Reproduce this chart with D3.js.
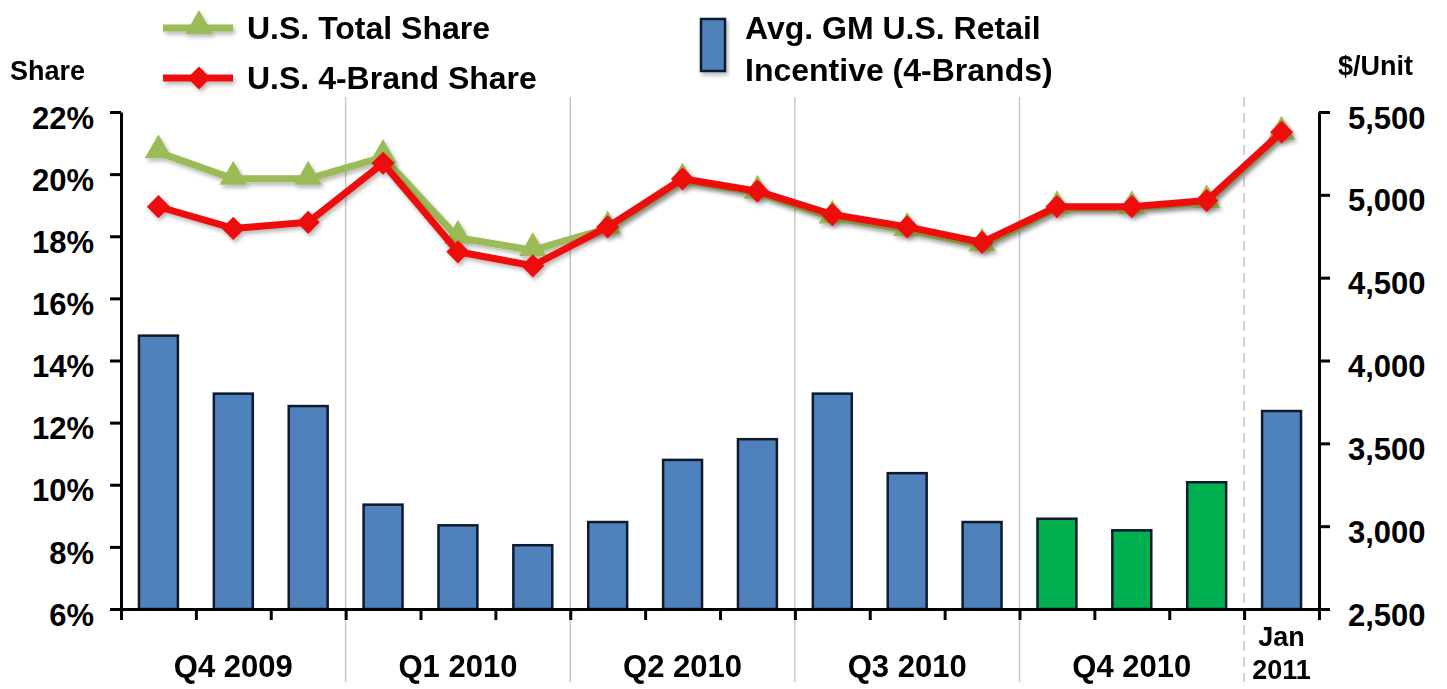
<!DOCTYPE html>
<html>
<head>
<meta charset="utf-8">
<script src="https://cdn.jsdelivr.net/npm/d3@7"></script>
<style>
  html, body { margin: 0; padding: 0; background: #fff; }
  svg { display: block; font-family: "Liberation Sans", Arial, sans-serif; font-weight: bold; }
</style>
</head>
<body>
<svg id="chart" width="1447" height="689"></svg>
<script>
// Monthly periods, Oct 2009 – Jan 2011
const months = ["Oct 09","Nov 09","Dec 09","Jan 10","Feb 10","Mar 10","Apr 10","May 10","Jun 10",
                "Jul 10","Aug 10","Sep 10","Oct 10","Nov 10","Dec 10","Jan 11"];
const quarterLabels = ["Q4 2009","Q1 2010","Q2 2010","Q3 2010","Q4 2010"];

// Average GM U.S. retail incentive, 4 brands ($/unit)
const incentive = [4150, 3800, 3725, 3130, 3005, 2885, 3025, 3400, 3525,
                   3800, 3320, 3025, 3045, 2975, 3265, 3695];
// U.S. total share (%)
const totalShare = [20.7, 19.85, 19.85, 20.55, 17.95, 17.55, 18.25, 19.8, 19.4,
                    18.6, 18.2, 17.7, 18.9, 18.9, 19.1, 21.3];
// U.S. 4-brand share (%)
const brandShare = [18.95, 18.25, 18.45, 20.35, 17.5, 17.05, 18.3, 19.85, 19.45,
                    18.7, 18.3, 17.8, 18.95, 18.95, 19.15, 21.35];
// Months from Oct 2010 to Dec 2010 are highlighted in green
const highlightFrom = 12, highlightTo = 15;

const shareTicks = [6, 8, 10, 12, 14, 16, 18, 20, 22];
const dollarTicks = [2500, 3000, 3500, 4000, 4500, 5000, 5500];

const svg = d3.select("#chart");
const plotL = 121, plotR = 1319, plotT = 112, plotB = 609;

const x = d3.scaleBand().domain(d3.range(months.length)).range([plotL, plotR])
  .paddingInner(0.48).paddingOuter(0.24);
const xb = d3.scaleLinear().domain([0, months.length]).range([plotL, plotR]);
const yL = d3.scaleLinear().domain([6, 22]).range([plotB, plotT]);
const yR = d3.scaleLinear().domain([2500, 5500]).range([plotB, plotT]);
const cx = i => x(i) + x.bandwidth() / 2;

const defs = svg.append("defs");
const sh = defs.append("filter").attr("id", "shadow")
  .attr("x", "-20%").attr("y", "-20%").attr("width", "140%").attr("height", "160%");
sh.append("feDropShadow").attr("dx", 2).attr("dy", 3).attr("stdDeviation", 2)
  .attr("flood-color", "#000").attr("flood-opacity", 0.28);

// Quarter separators
svg.append("g").selectAll("line").data([3, 6, 9, 12]).join("line")
  .attr("x1", d => xb(d)).attr("x2", d => xb(d))
  .attr("y1", 97).attr("y2", 682)
  .attr("stroke", "#c8c8c8").attr("stroke-width", 1.5);
svg.append("line")
  .attr("x1", xb(15)).attr("x2", xb(15)).attr("y1", 97).attr("y2", 682)
  .attr("stroke", "#c4c4c4").attr("stroke-width", 1.5).attr("stroke-dasharray", "10,6");

// Bars
svg.append("g").selectAll("rect").data(incentive).join("rect")
  .attr("x", (d, i) => x(i)).attr("width", x.bandwidth())
  .attr("y", d => yR(d)).attr("height", d => yR(2500) - yR(d))
  .attr("fill", (d, i) => i >= highlightFrom && i < highlightTo ? "#00b050" : "#4f81bd")
  .attr("stroke", "#0f1a2c").attr("stroke-width", 2.5);

// Axes
const axL = svg.append("g").attr("transform", `translate(${plotL},0)`)
  .call(d3.axisLeft(yL).tickValues(shareTicks).tickFormat(d => d + "%")
    .tickSize(11).tickSizeOuter(0).tickPadding(16));
const axR = svg.append("g").attr("transform", `translate(${plotR},0)`)
  .call(d3.axisRight(yR).tickValues(dollarTicks).tickFormat(d3.format(","))
    .tickSize(11).tickSizeOuter(0).tickPadding(18));
const axB = svg.append("g").attr("transform", `translate(0,${plotB})`)
  .call(d3.axisBottom(xb).tickValues(d3.range(months.length + 1)).tickFormat("")
    .tickSize(11).tickSizeOuter(0));
[axL, axR, axB].forEach(g => {
  g.selectAll("path.domain, line").attr("stroke", "#000").attr("stroke-width", 3);
  g.selectAll("text").attr("font-size", 31).attr("font-weight", "bold")
    .attr("font-family", "Liberation Sans, Arial, sans-serif").attr("fill", "#000");
});
axL.selectAll("text").attr("dy", "0.52em");
axR.selectAll("text").attr("dy", "0.52em");

// Share lines
const line = data => d3.line().x((d, i) => cx(i)).y(d => yL(d))(data);
const gTotal = svg.append("g").attr("filter", "url(#shadow)");
gTotal.append("path").attr("d", line(totalShare))
  .attr("fill", "none").attr("stroke", "#9bbb59").attr("stroke-width", 7).attr("stroke-linejoin", "round");
gTotal.selectAll("path.m").data(totalShare).join("path").attr("class", "m")
  .attr("d", d3.symbol(d3.symbolTriangle, 330)())
  .attr("transform", (d, i) => `translate(${cx(i)},${yL(d) - 2})`)
  .attr("fill", "#9bbb59");

const gBrand = svg.append("g").attr("filter", "url(#shadow)");
gBrand.append("path").attr("d", line(brandShare))
  .attr("fill", "none").attr("stroke", "#ee1111").attr("stroke-width", 7).attr("stroke-linejoin", "round");
gBrand.selectAll("path.m").data(brandShare).join("path").attr("class", "m")
  .attr("d", d3.symbol(d3.symbolSquare, 270)())
  .attr("transform", (d, i) => `translate(${cx(i)},${yL(d)}) rotate(45)`)
  .attr("fill", "#ee1111");

// Period labels
const txt = (s, xx, yy, size, anchor) => svg.append("text").text(s)
  .attr("x", xx).attr("y", yy).attr("font-size", size).attr("text-anchor", anchor || "middle");
quarterLabels.forEach((q, k) => txt(q, cx(k * 3 + 1), 677, 31));
txt("Jan", cx(15), 646, 27);
txt("2011", cx(15), 679, 27);

// Axis titles
txt("Share", 10, 80, 27, "start");
txt("$/Unit", 1338, 75, 27, "start");

// Legend
const lg = svg.append("g");
const g1 = lg.append("g").attr("filter", "url(#shadow)");
g1.append("line").attr("x1", 163).attr("x2", 233).attr("y1", 28).attr("y2", 28)
  .attr("stroke", "#9bbb59").attr("stroke-width", 7);
g1.append("path").attr("d", d3.symbol(d3.symbolTriangle, 330)())
  .attr("transform", "translate(199,26)").attr("fill", "#9bbb59");
const g2 = lg.append("g").attr("filter", "url(#shadow)");
g2.append("line").attr("x1", 163).attr("x2", 233).attr("y1", 78).attr("y2", 78)
  .attr("stroke", "#ee1111").attr("stroke-width", 7);
g2.append("path").attr("d", d3.symbol(d3.symbolSquare, 270)())
  .attr("transform", "translate(199,78) rotate(45)").attr("fill", "#ee1111");
lg.append("rect").attr("x", 701).attr("y", 19).attr("width", 24).attr("height", 52)
  .attr("fill", "#4f81bd").attr("stroke", "#0f1a2c").attr("stroke-width", 2.5)
  .attr("filter", "url(#shadow)");
txt("U.S. Total Share", 247, 39, 32, "start");
txt("U.S. 4-Brand Share", 247, 89, 32, "start");
txt("Avg. GM U.S. Retail", 745, 39, 32, "start");
txt("Incentive (4-Brands)", 745, 81, 32, "start");
</script>
</body>
</html>
